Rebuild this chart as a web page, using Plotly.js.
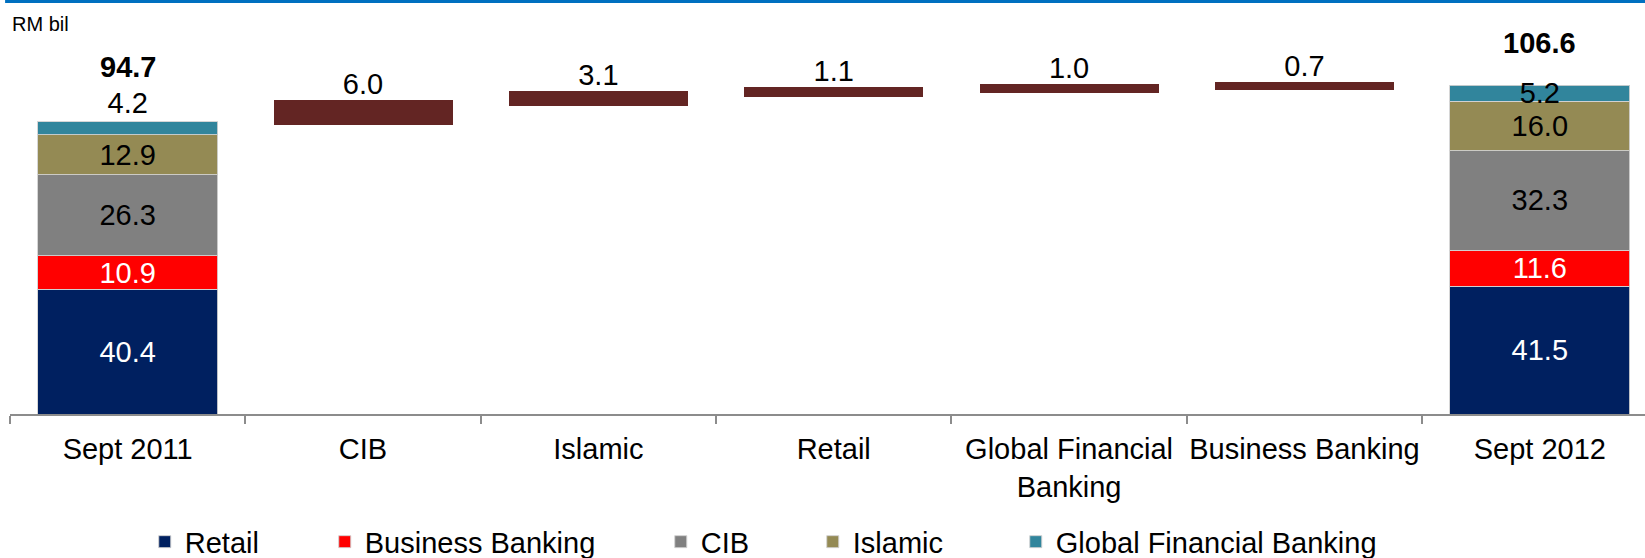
<!DOCTYPE html>
<html>
<head>
<meta charset="utf-8">
<script src="https://cdn.plot.ly/plotly-3.0.1.min.js"></script>
<style>
  html, body { margin: 0; padding: 0; background: #ffffff; }
  #chart { width: 1645px; height: 558px; }
</style>
</head>
<body>
<div id="chart"></div>
<script>
// ---- data ----
const categories = ['Sept 2011', 'CIB', 'Islamic', 'Retail', 'Global Financial<br>Banking', 'Business Banking', 'Sept 2012'];
const totalCats = ['Sept 2011', 'Sept 2012'];
const segmentNames = ['Retail', 'Business Banking', 'CIB', 'Islamic', 'Global Financial Banking'];
const sept2011 = [40.4, 10.9, 26.3, 12.9, 4.2];
const sept2012 = [41.5, 11.6, 32.3, 16.0, 5.2];
const totals = [94.7, 106.6];
const changeCats = ['CIB', 'Islamic', 'Retail', 'Global Financial<br>Banking', 'Business Banking'];
const changes = [6.0, 3.1, 1.1, 1.0, 0.7];

// ---- styles ----
const segColors = ['#002060', '#FF0000', '#808080', '#948A54', '#31859C'];
const segTextColors = ['#ffffff', '#ffffff', '#000000', '#000000', '#000000'];
const legendWidths = [135, 291, 107, 158, 330];
const FONT = '"Liberation Sans", Arial, sans-serif';
const FS = 29;

const traces = [];
segmentNames.forEach((name, i) => {
  const vals = [sept2011[i], sept2012[i]];
  const isTop = i === segmentNames.length - 1;
  traces.push({
    type: 'bar',
    name: name,
    x: totalCats,
    y: vals,
    width: 0.765,
    marker: { color: segColors[i], line: { color: 'rgba(210,210,210,0.9)', width: 1 } },
    text: vals.map(v => v.toFixed(1)),
    textposition: isTop ? ['outside', 'inside'] : 'inside',
    insidetextanchor: 'middle',
    constraintext: 'none',
    cliponaxis: false,
    textangle: 0,
    textfont: { family: FONT, size: FS, color: segTextColors[i] },
    outsidetextfont: { family: FONT, size: FS, color: '#000000' },
    legendwidth: legendWidths[i],
    hoverinfo: 'skip'
  });
});

// floating change bars: base is running total starting from Sept 2011 total
const bases = [];
let run = totals[0];
changes.forEach(c => { bases.push(run); run += c; });
traces.push({
  type: 'bar',
  name: 'change',
  x: changeCats,
  y: changes,
  base: bases,
  width: 0.735,
  marker: { color: '#632523', line: { color: '#632523', width: 6 } },
  text: changes.map(v => v.toFixed(1)),
  textposition: 'outside',
  cliponaxis: false,
  textangle: 0,
  textfont: { family: FONT, size: FS, color: '#000000' },
  showlegend: false,
  hoverinfo: 'skip'
});

const totalShifts = [37, 24];
const annotations = totalCats.map((c, i) => ({
  x: c, y: totals[i], xref: 'x', yref: 'y',
  text: '<b>' + totals[i].toFixed(1) + '</b>',
  showarrow: false, yanchor: 'bottom', yshift: totalShifts[i],
  font: { family: FONT, size: FS, color: '#000000' }
}));
annotations.push({
  xref: 'paper', yref: 'paper', x: 0.0, y: 1.016, xanchor: 'left', yanchor: 'middle',
  text: 'RM bil', showarrow: false,
  font: { family: FONT, size: 20, color: '#000000' }
});

const layout = {
  width: 1645, height: 558,
  margin: { l: 10, r: 0, t: 30, b: 144, pad: 0 },
  paper_bgcolor: '#ffffff', plot_bgcolor: '#ffffff',
  barmode: 'stack',
  showlegend: true,
  font: { family: FONT, size: FS, color: '#000000' },
  xaxis: {
    type: 'category',
    categoryorder: 'array', categoryarray: categories,
    range: [-0.5, 6.447],
    showline: true, linecolor: '#8c8c8c', linewidth: 2,
    ticks: 'outside', ticklen: 8, tickwidth: 2, tickcolor: '#8c8c8c',
    tickson: 'boundaries',
    tickangle: 0,
    ticklabelstandoff: 8,
    showgrid: false, zeroline: false,
    tickfont: { family: FONT, size: FS, color: '#000000' },
    fixedrange: true
  },
  yaxis: { range: [0, 124.5], visible: false, fixedrange: true },
  legend: {
    orientation: 'h', xref: 'container', yref: 'container',
    x: 0.088, y: 0.029, xanchor: 'left', yanchor: 'middle',
    traceorder: 'normal',
    font: { family: FONT, size: FS, color: '#000000' },
    bgcolor: 'rgba(0,0,0,0)', borderwidth: 0
  },
  annotations: annotations,
  shapes: [{
    type: 'rect', xref: 'paper', yref: 'paper',
    ysizemode: 'pixel', yanchor: 1,
    x0: -0.003, x1: 1.0, y0: 27, y1: 30,
    fillcolor: '#0070C0', line: { width: 0 }
  }]
};

Plotly.newPlot('chart', traces, layout, { staticPlot: true, displayModeBar: false });
</script>
</body>
</html>
